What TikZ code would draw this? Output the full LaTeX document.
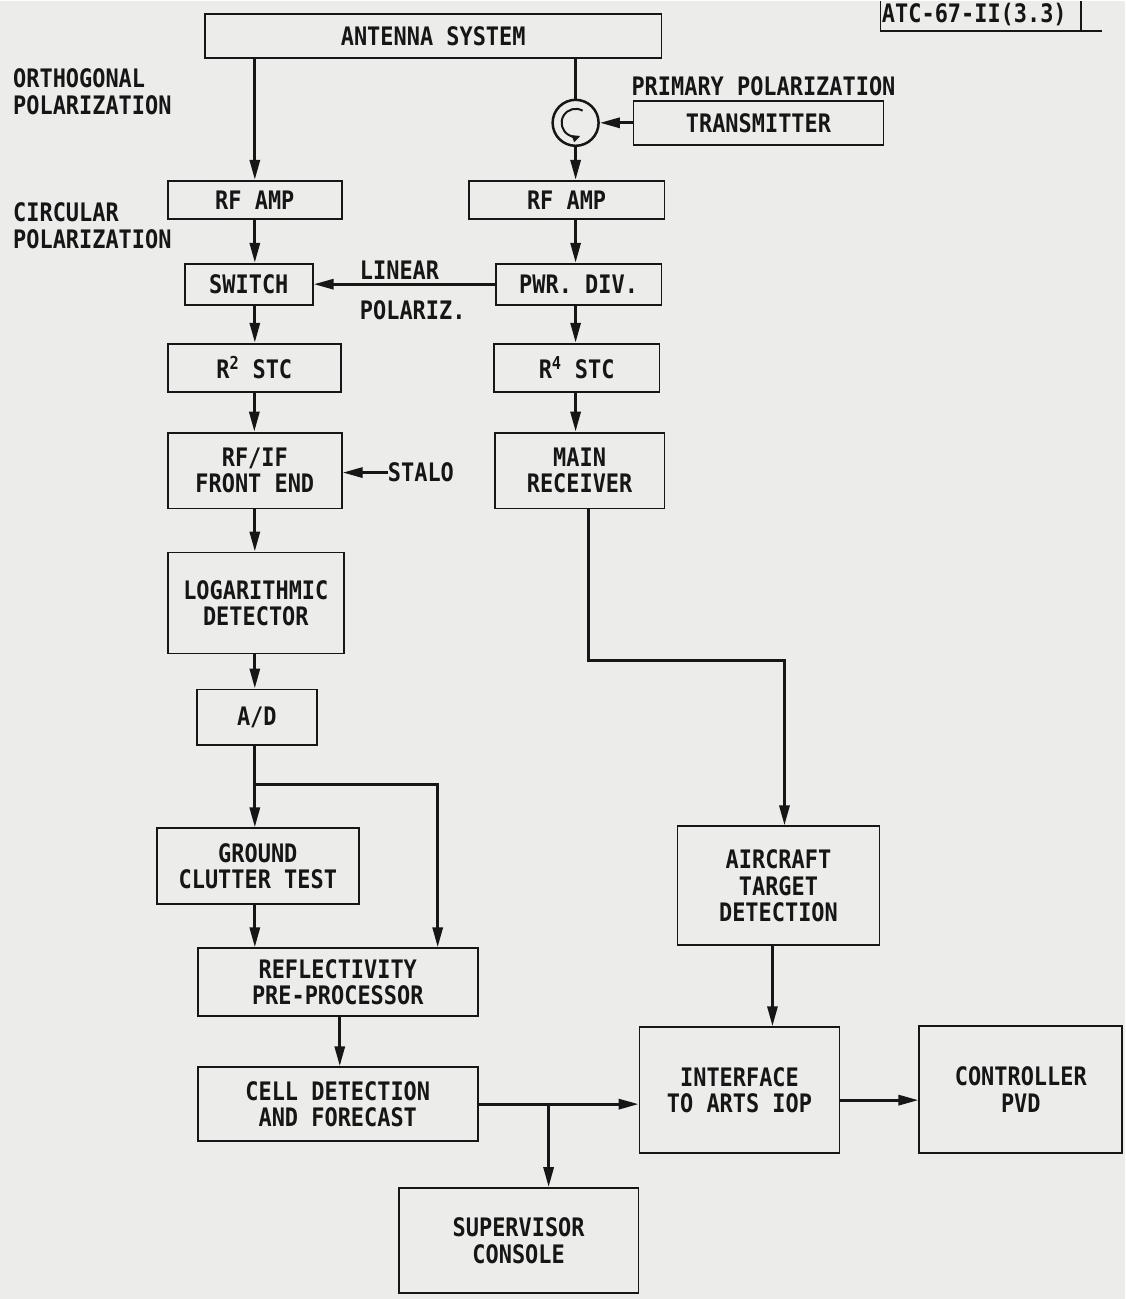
\documentclass[tikz,border=0pt]{standalone}
\usepackage{fontspec}
\setmainfont[FakeStretch=0.86]{DejaVu Sans Mono Bold}
\usetikzlibrary{arrows.meta}
\definecolor{paper}{RGB}{236,236,234}
\definecolor{ink}{RGB}{22,22,22}

\begin{document}
\begin{tikzpicture}[x=1pt, y=-1pt, ink,
        font=\fontsize{25.5}{26.5}\selectfont,
        every node/.style={inner sep=0pt},
        blk/.style={draw, line width=1.8pt, align=center},
        wire/.style={line width=3pt},
        arr/.style={wire, -{Triangle[length=20pt,width=10pt]}}]

            \fill[paper] (0,0) rectangle (1126,1299);

            % blocks
            \node[blk, minimum width=457pt, minimum height=44pt] (ant) at (433.5,35) {ANTENNA SYSTEM};
            \node[circle, draw, line width=2.5pt, minimum size=46pt] (circ) at (576,122) {};
            \node[blk, minimum width=250pt, minimum height=44pt] (trans) at (759,122) {TRANSMITTER};
            \node[blk, minimum width=174pt, minimum height=38pt] (rfl) at (255,199) {RF AMP};
            \node[blk, minimum width=196pt, minimum height=38pt] (rfr) at (567,199) {RF AMP};
            \node[blk, minimum width=128pt, minimum height=41pt] (sw) at (249,283.5) {SWITCH};
            \node[blk, minimum width=166pt, minimum height=41pt] (pwr) at (579,283.5) {PWR. DIV.};
            \node[blk, minimum width=173pt, minimum height=48pt] (r2) at (254.5,367) {R\textsuperscript{2} STC};
            \node[blk, minimum width=166pt, minimum height=48pt] (r4) at (577,367) {R\textsuperscript{4} STC};
            \node[blk, minimum width=174pt, minimum height=76pt] (rfif) at (255,470) {RF/IF\\FRONT END};
            \node[blk, minimum width=170pt, minimum height=76pt] (mainrx) at (580,470) {MAIN\\RECEIVER};
            \node[blk, minimum width=176pt, minimum height=101pt] (log) at (256,602.5) {LOGARITHMIC\\DETECTOR};
            \node[blk, minimum width=120pt, minimum height=56pt] (ad) at (257,717) {A/D};
            \node[blk, minimum width=202pt, minimum height=76pt] (gnd) at (258,866) {GROUND\\CLUTTER TEST};
            \node[blk, minimum width=280pt, minimum height=68pt] (refl) at (338,982) {REFLECTIVITY\\PRE-PROCESSOR};
            \node[blk, minimum width=280pt, minimum height=74pt] (cell) at (338,1104) {CELL DETECTION\\AND FORECAST};
            \node[blk, minimum width=202pt, minimum height=119pt] (acft) at (779,885.5) {AIRCRAFT\\TARGET\\DETECTION};
            \node[blk, minimum width=200pt, minimum height=126pt] (iface) at (740,1090) {INTERFACE\\TO ARTS IOP};
            \node[blk, minimum width=203pt, minimum height=127pt] (ctrl) at (1021.5,1089.5) {CONTROLLER\\PVD};
            \node[blk, minimum width=240pt, minimum height=105pt] (sup) at (519,1240.5) {SUPERVISOR\\CONSOLE};

            % texts
            \node (atc) at (975,14) {ATC-67-II(3.3)};
            \draw[line width=1.8pt] (881,0) |- (1103,30);
            \draw[line width=1.8pt] (1082,0) -- (1082,30);
            \node[anchor=west, align=left] (orth) at (13,91) {ORTHOGONAL\\POLARIZATION};
            \node[anchor=west, align=left] (circp) at (13,225) {CIRCULAR\\POLARIZATION};
            \node (prim) at (764,85) {PRIMARY POLARIZATION};
            \node[anchor=west] (lin) at (360,269) {LINEAR};
            \node[anchor=west] (linp) at (360,310) {POLARIZ.};
            \node[anchor=west] (stalo) at (388,472) {STALO};

            % circulator
            \draw[line width=2pt, -{Triangle[length=8pt,width=7pt]}] ([shift={(60:14pt)}]circ.center)
                arc[start angle=60, end angle=290, radius=14pt];

            % connections
            \draw[wire] (ant.south -| circ.north) -- (circ.north);
            \draw[arr] (ant.south -| rfl.north) -- (rfl.north);
            \draw[arr] (trans.west) -- (circ.east);
            \draw[arr] (circ.south) -- (circ.south |- rfr.north);
            \draw[arr] (rfl.south) -- (rfl.south |- sw.north);
            \draw[arr] (rfr.south -| circ.south) -- (pwr.north -| circ.south);
            \draw[arr] (pwr.west) -- (sw.east);
            \draw[arr] (sw.south -| rfl.south) -- (r2.north -| rfl.south);
            \draw[arr] (pwr.south -| circ.south) -- (r4.north -| circ.south);
            \draw[arr] (r2.south) -- (r2.south |- rfif.north);
            \draw[arr] (r4.south -| circ.south) -- (mainrx.north -| circ.south);
            \draw[arr] (stalo.west) -- (stalo.west -| rfif.east);
            \draw[arr] (rfif.south) -- (rfif.south |- log.north);
            \draw[arr] (log.south -| rfif.south) -- (ad.north -| rfif.south);
            \draw[arr] (ad.south -| rfif.south) -- (gnd.north -| rfif.south);
            \draw[arr] ([yshift=-38pt]ad.south -| rfif.south) -| ([xshift=100pt]refl.north);
            \draw[arr] ([xshift=9pt]mainrx.south) -- ++(0,151) -| ([xshift=6pt]acft.north);
            \draw[arr] (gnd.south -| rfif.south) -- (refl.north -| rfif.south);
            \draw[arr] ([xshift=2pt]refl.south) -- ([xshift=2pt]cell.north);
            \draw[arr] (cell.east) -- (cell.east -| iface.west);
            \draw[arr] ([xshift=30pt]sup.north |- cell.east) -- ([xshift=30pt]sup.north);
            \draw[arr] ([xshift=-6pt]acft.south) -- ([xshift=-6pt]acft.south |- iface.north);
            \draw[arr] ([yshift=-10pt]iface.east) -- ([yshift=-10pt]iface.east -| ctrl.west);
        \end{tikzpicture}
\end{document}
